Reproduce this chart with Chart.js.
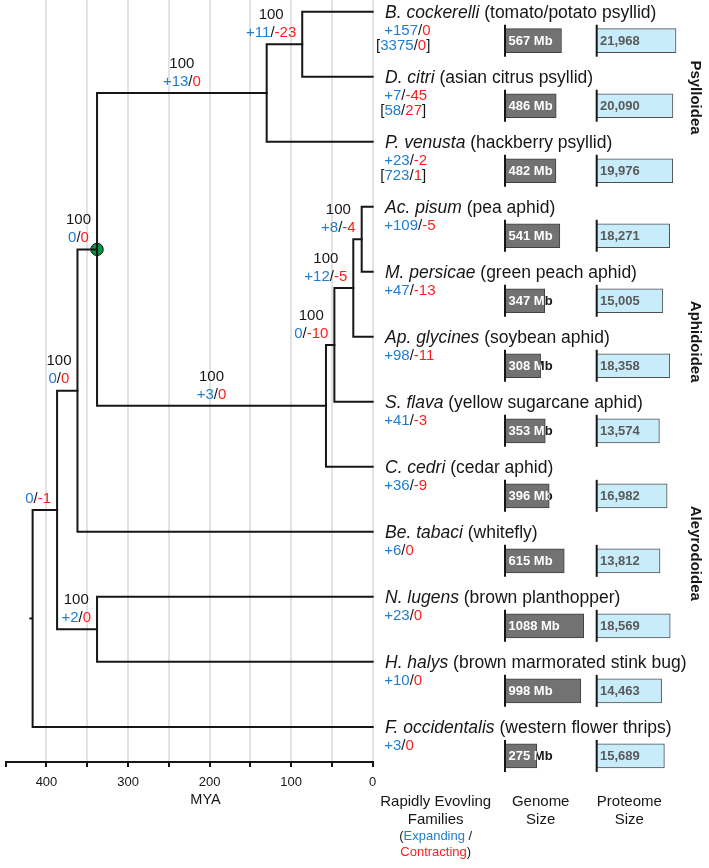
<!DOCTYPE html>
<html>
<head>
<meta charset="utf-8">
<script src="https://cdn.jsdelivr.net/npm/chart.js@4.4.0/dist/chart.umd.min.js"></script>
<style>
  html, body { margin: 0; padding: 0; background: #fff; }
  #wrap { position: relative; width: 709px; height: 868px; }
  #wrap canvas { position: absolute; left: 0; top: 0; }
</style>
</head>
<body>
<div id="wrap">
  <canvas id="treeChart" width="709" height="868"></canvas>
  <canvas id="genomeChart" width="709" height="868"></canvas>
  <canvas id="proteomeChart" width="709" height="868"></canvas>
</div>
<script>
const FONT = '"Liberation Sans", Arial, Helvetica, sans-serif';
const BLUE = 'rgb(33,125,208)';
const RED = 'rgb(252,30,30)';
const INK = '#161616';

// tips, top to bottom
let genus = ['B. cockerelli', 'D. citri', 'P. venusta', 'Ac. pisum', 'M. persicae', 'Ap. glycines',
    'S. flava', 'C. cedri', 'Be. tabaci', 'N. lugens', 'H. halys', 'F. occidentalis'];
let commonName = ['tomato/potato psyllid', 'asian citrus psyllid', 'hackberry psyllid', 'pea aphid',
    'green peach aphid', 'soybean aphid', 'yellow sugarcane aphid', 'cedar aphid', 'whitefly',
    'brown planthopper', 'brown marmorated stink bug', 'western flower thrips'];
let tipExpand = [157, 7, 23, 109, 47, 98, 41, 36, 6, 23, 10, 3];
let tipContract = [0, 45, 2, 5, 13, 11, 3, 9, 0, 0, 0, 0];
let bracketExpand = [3375, 58, 723];
let bracketContract = [0, 27, 1];
let genomeMb = [567, 486, 482, 541, 347, 308, 353, 396, 615, 1088, 998, 275];
let proteomeSize = [21968, 20090, 19976, 18271, 15005, 18358, 13574, 16982, 13812, 18569, 14463, 15689];

// internal nodes (ids 12+), children ids, age in MYA
let nodeChildren = [[0, 1], [12, 2], [3, 4], [14, 5], [15, 6], [16, 7], [13, 17], [18, 8], [9, 10], [19, 20], [21, 11]];
let nodeAge = [86.4, 130, 13.5, 23.8, 47, 57.3, 338, 362, 338, 387, 417];
let nodeSupport = [100, 100, 100, 100, 100, 100, 100, 100, 100, null, null];
let nodeExpand = [11, 13, 8, 12, 0, 3, 0, 0, 2, 0, null];
let nodeContract = [23, 0, 4, 5, 10, 0, 0, 0, 0, 1, null];
let rootEdgeAge = 421;
let markedNode = 18;

let groupNames = ['Psylloidea', 'Aphidoidea', 'Aleyrodoidea'];
let myaTicks = [0, 50, 100, 150, 200, 250, 300, 350, 400, 450];

// tree layout from topology
let nTips = genus.length;
let rowOf = [], ageOf = [], parentOf = [];
genus.forEach((g, i) => { rowOf[i] = i; ageOf[i] = 0; });
nodeChildren.forEach((c, k) => {
    let id = nTips + k;
    rowOf[id] = (rowOf[c[0]] + rowOf[c[1]]) / 2;
    ageOf[id] = nodeAge[k];
    parentOf[c[0]] = id;
    parentOf[c[1]] = id;
});
let rootId = nTips + nodeChildren.length - 1;

let lineStyle = {
    showLine: true, borderColor: INK, borderWidth: 2, pointRadius: 0,
    tension: 0, clip: false, borderJoinStyle: 'miter', borderCapStyle: 'square'
};
let branchSets = nodeChildren.map((c, k) => Object.assign({
    data: [
        {x: ageOf[c[0]], y: rowOf[c[0]]},
        {x: nodeAge[k], y: rowOf[c[0]]},
        {x: nodeAge[k], y: rowOf[c[1]]},
        {x: ageOf[c[1]], y: rowOf[c[1]]}
    ]
}, lineStyle));
branchSets.push(Object.assign({
    data: [{x: ageOf[rootId], y: rowOf[rootId]}, {x: rootEdgeAge, y: rowOf[rootId]}]
}, lineStyle, {borderCapStyle: 'butt'}));
branchSets.push({
    data: [{x: ageOf[markedNode], y: rowOf[markedNode]}],
    pointRadius: 6.2, pointBackgroundColor: 'rgb(0,148,62)', pointBorderColor: INK,
    pointBorderWidth: 1, showLine: false, clip: false
});

let yRange = {min: -0.18, max: 11.54};
let barShift = 0.446;

function drawParts(ctx, parts, x, y, align) {
    let w = 0;
    parts.forEach(p => { ctx.font = p.font; w += ctx.measureText(p.text).width; });
    let cx = align === 'center' ? x - w / 2 : (align === 'right' ? x - w : x);
    ctx.textAlign = 'left';
    parts.forEach(p => {
        ctx.font = p.font;
        ctx.fillStyle = p.color;
        ctx.fillText(p.text, cx, y);
        cx += ctx.measureText(p.text).width;
    });
    return w;
}
function countParts(e, c, font) {
    return [
        {text: e === 0 ? '0' : '+' + e, color: BLUE, font: font},
        {text: '/', color: INK, font: font},
        {text: c === 0 ? '0' : '-' + c, color: RED, font: font}
    ];
}
function partsWidth(ctx, parts) {
    let w = 0;
    parts.forEach(p => { ctx.font = p.font; w += ctx.measureText(p.text).width; });
    return w;
}

let treeText = {
    id: 'treeText',
    afterDraw(chart) {
        let ctx = chart.ctx, xs = chart.scales.x, ys = chart.scales.y;
        let f15 = '15px ' + FONT;
        ctx.save();
        ctx.textBaseline = 'middle';

        // tip labels
        let tipX = xs.getPixelForValue(0);
        genus.forEach((g, i) => {
            let y = ys.getPixelForValue(i);
            drawParts(ctx, [
                {text: g, color: INK, font: 'italic 17.5px ' + FONT},
                {text: ' (' + commonName[i] + ')', color: INK, font: '17.5px ' + FONT}
            ], tipX + 12.3, y + 1, 'left');
            drawParts(ctx, countParts(tipExpand[i], tipContract[i], f15), tipX + 11.5, y + 19, 'left');
            if (i < bracketExpand.length) {
                drawParts(ctx, [
                    {text: '[', color: INK, font: f15},
                    {text: String(bracketExpand[i]), color: BLUE, font: f15},
                    {text: '/', color: INK, font: f15},
                    {text: String(bracketContract[i]), color: RED, font: f15},
                    {text: ']', color: INK, font: f15}
                ], tipX + 30.5, y + 34, 'center');
            }
        });

        // node labels on the stem leading to each node
        nodeChildren.forEach((c, k) => {
            let id = nTips + k;
            if (parentOf[id] === undefined || nodeExpand[k] === null) return;
            let nx = xs.getPixelForValue(nodeAge[k]);
            let px = xs.getPixelForValue(ageOf[parentOf[id]]);
            let y = ys.getPixelForValue(rowOf[id]);
            let cp = countParts(nodeExpand[k], nodeContract[k], f15);
            let w = partsWidth(ctx, cp);
            ctx.font = f15;
            if (nodeSupport[k] !== null) w = Math.max(w, ctx.measureText(String(nodeSupport[k])).width);
            let cx = Math.min((nx + px) / 2, nx - 6 - w / 2);
            if (nodeSupport[k] !== null) {
                drawParts(ctx, [{text: String(nodeSupport[k]), color: INK, font: f15}], cx, y - 29.5, 'center');
            }
            drawParts(ctx, cp, cx, y - 11.5, 'center');
        });

        // axis title
        ctx.font = '14.5px ' + FONT;
        ctx.fillStyle = INK;
        ctx.textAlign = 'center';
        ctx.fillText('MYA', xs.getPixelForValue(205), 800);

        // column titles
        ctx.font = '15px ' + FONT;
        ctx.fillText('Rapidly Evovling', 435.7, 802);
        ctx.fillText('Families', 435.7, 819.5);
        ctx.fillText('Genome', 540.7, 802);
        ctx.fillText('Size', 540.7, 819.5);
        ctx.fillText('Proteome', 629.3, 802);
        ctx.fillText('Size', 629.3, 819.5);
        let f13 = '13px ' + FONT;
        drawParts(ctx, [
            {text: '(', color: INK, font: f13},
            {text: 'Expanding', color: BLUE, font: f13},
            {text: ' /', color: INK, font: f13}
        ], 435.7, 836, 'center');
        drawParts(ctx, [
            {text: 'Contracting', color: RED, font: f13},
            {text: ')', color: INK, font: f13}
        ], 435.7, 852, 'center');

        // superfamily labels
        let groupY = [97.5, 341.7, 553.3];
        ctx.font = 'bold 15px ' + FONT;
        ctx.fillStyle = INK;
        groupNames.forEach((g, i) => {
            ctx.save();
            ctx.translate(695, groupY[i]);
            ctx.rotate(Math.PI / 2);
            ctx.textAlign = 'center';
            ctx.fillText(g, 0, 0);
            ctx.restore();
        });
        ctx.restore();
    }
};

new Chart(document.getElementById('treeChart'), {
    type: 'scatter',
    data: {datasets: branchSets},
    options: {
        responsive: false,
        animation: false,
        events: [],
        layout: {autoPadding: false, padding: {left: 5.7, right: 336.3, top: 0, bottom: 0}},
        plugins: {legend: {display: false}, tooltip: {enabled: false}},
        scales: {
            x: {
                type: 'linear', reverse: true, min: 0, max: 450,
                afterBuildTicks: s => { s.ticks = myaTicks.map(v => ({value: v})); },
                afterFit: s => { s.height = 106; },
                ticks: {
                    autoSkip: false, maxRotation: 0, padding: 8, color: INK,
                    font: {family: FONT, size: 13},
                    callback: v => (v % 100 === 0 && v <= 400) ? String(v) : ''
                },
                grid: {
                    color: c => (c.tick && c.tick.value > 400) ? 'rgba(0,0,0,0)' : '#e3e3e3',
                    lineWidth: 2, tickColor: INK, tickLength: 5, tickWidth: 2
                },
                border: {color: INK, width: 2}
            },
            y: {type: 'linear', reverse: true, min: yRange.min, max: yRange.max, display: false}
        }
    },
    plugins: [treeText]
});

function barLabels(values, fmt, inside, outside, pad) {
    return {
        id: 'barLabels',
        afterDatasetsDraw(chart) {
            let ctx = chart.ctx, meta = chart.getDatasetMeta(0);
            ctx.save();
            ctx.font = 'bold 13px ' + FONT;
            ctx.textBaseline = 'middle';
            ctx.textAlign = 'left';
            meta.data.forEach((bar, i) => {
                let x0 = bar.base, x1 = bar.x, y = bar.y, txt = fmt(values[i]);
                ctx.strokeStyle = INK;
                ctx.lineWidth = 2;
                ctx.beginPath();
                ctx.moveTo(x0, y - 16);
                ctx.lineTo(x0, y + 16);
                ctx.stroke();
                ctx.save();
                ctx.beginPath();
                ctx.rect(x1, y - 15, 200, 30);
                ctx.clip();
                ctx.fillStyle = outside;
                ctx.fillText(txt, x0 + pad, y + 0.5);
                ctx.restore();
                ctx.save();
                ctx.beginPath();
                ctx.rect(x0, y - 15, x1 - x0, 30);
                ctx.clip();
                ctx.fillStyle = inside;
                ctx.fillText(txt, x0 + pad, y + 0.5);
                ctx.restore();
            });
            ctx.restore();
        }
    };
}

function sideBars(canvasId, values, left, right, minV, pxPerDecade, fill, edge, labelPlugin) {
    let width = 709 - left - right;
    let maxV = minV * Math.pow(10, width / pxPerDecade);
    return new Chart(document.getElementById(canvasId), {
        type: 'bar',
        data: {
            datasets: [{
                data: values.map((v, i) => ({x: v, y: i + barShift})),
                backgroundColor: fill, borderColor: edge, borderWidth: 1,
                barThickness: 24, borderSkipped: 'start', clip: false
            }]
        },
        options: {
            indexAxis: 'y',
            responsive: false,
            animation: false,
            events: [],
            layout: {autoPadding: false, padding: {left: left, right: right, top: 0, bottom: 106}},
            plugins: {legend: {display: false}, tooltip: {enabled: false}},
            scales: {
                x: {type: 'logarithmic', min: minV, max: maxV, display: false},
                y: {type: 'linear', reverse: true, offset: false, min: yRange.min, max: yRange.max, display: false}
            }
        },
        plugins: [labelPlugin]
    });
}

sideBars('genomeChart', genomeMb, 505, 109, 108.6, 78.7, 'rgb(114,114,114)', 'rgb(64,64,64)',
    barLabels(genomeMb, v => v + ' Mb', '#ffffff', INK, 3.5));
sideBars('proteomeChart', proteomeSize, 596.7, 19, 2203, 79.4, 'rgb(200,236,250)', 'rgb(80,80,80)',
    barLabels(proteomeSize, v => v.toLocaleString('en-US'), 'rgb(90,90,90)', 'rgb(90,90,90)', 3.3));
</script>
</body>
</html>
